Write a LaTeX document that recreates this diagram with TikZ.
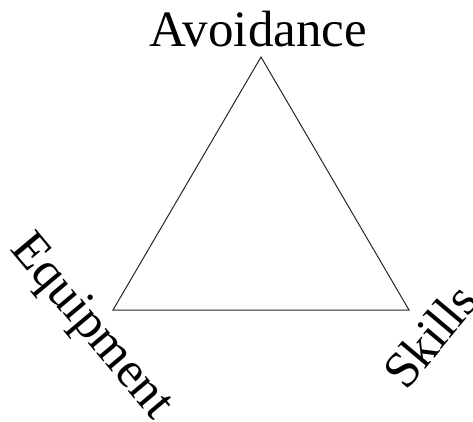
\documentclass[tikz,border=0pt]{standalone}
\usepackage{fontspec}
\setmainfont{Liberation Serif}
\begin{document}
\begin{tikzpicture}[
		x=1pt, y=1pt,
		every node/.style={font=\fontsize{51}{57}\selectfont, inner sep=0pt},
		side/.style={line width=1pt, line join=miter, draw=black!85}
		]
		
		\useasboundingbox (0,0) rectangle (473,421);
		
		\coordinate (top) at (261,364);
		\coordinate (left) at (113,111);
		\coordinate (right) at (409,111);
		
		\node (avoid) [anchor=base] at (258.5,374) {Avoidance};
		\node (equip) [rotate=-50] at (90,93) {Equipment};
		\node (skills) [rotate=50] at (430,85) {Skills};
		
		\draw[side] (top) -- (left) -- (right) -- cycle;
		
	\end{tikzpicture}
\end{document}
